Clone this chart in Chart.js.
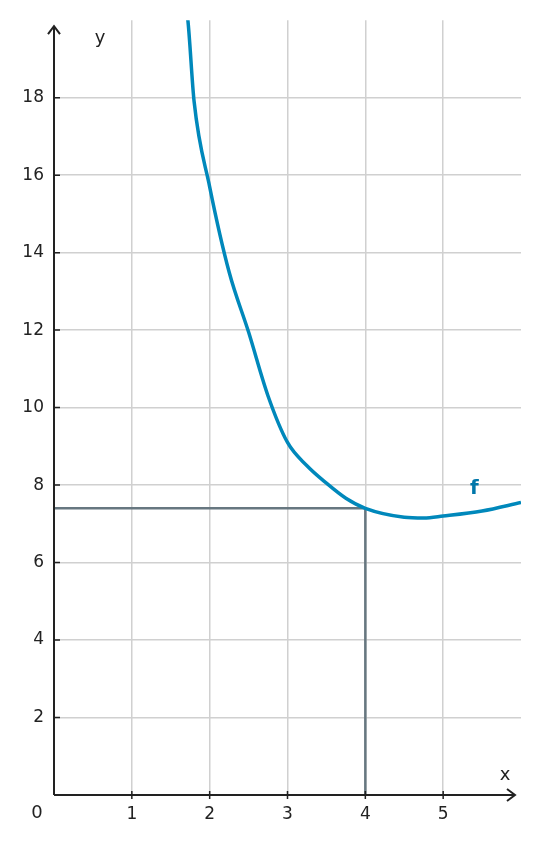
<!DOCTYPE html>
<html>
<head>
<meta charset="utf-8">
<script src="https://cdn.jsdelivr.net/npm/chart.js@4"></script>
<style>
  html, body { margin: 0; padding: 0; background: #fff; }
  #wrap { width: 538px; height: 843px; }
</style>
</head>
<body>
<div id="wrap"><canvas id="plot"></canvas></div>
<script>
// values
const curveX = [1.62, 1.72, 1.8, 2.0, 2.25, 2.5, 2.75, 3.0, 3.25, 3.5, 3.75, 4.0, 4.5, 4.75, 5.0, 5.5, 6.0];
const curveY = [21.2, 20.0, 17.9, 15.7, 13.5, 11.95, 10.3, 9.1, 8.5, 8.05, 7.66, 7.4, 7.17, 7.15, 7.2, 7.33, 7.55];
const boxX = [0, 4, 4];
const boxY = [7.4, 7.4, 0];
const xTicks = [1, 2, 3, 4, 5];
const yTicks = [2, 4, 6, 8, 10, 12, 14, 16, 18];

const FONT = "'DejaVu Sans', sans-serif";
const ink = '#222';

// axes with arrows, tick dashes and the extra labels
const axesPlugin = {
    id: 'axes',
    afterDatasetsDraw(chart) {
        const ctx = chart.ctx;
        const x = chart.scales.x, y = chart.scales.y;
        const x0 = x.getPixelForValue(0), y0 = y.getPixelForValue(0);
        const right = x.right, top = y.top;
        ctx.save();
        ctx.strokeStyle = ink;
        ctx.lineWidth = 2;
        ctx.beginPath();
        ctx.moveTo(x0, y0); ctx.lineTo(right - 6, y0);
        ctx.moveTo(x0, y0); ctx.lineTo(x0, top + 6);
        ctx.stroke();
        // arrow heads
        ctx.beginPath();
        ctx.moveTo(right - 14, y0 - 6); ctx.lineTo(right - 6, y0); ctx.lineTo(right - 14, y0 + 6);
        ctx.moveTo(x0 - 6, top + 14); ctx.lineTo(x0, top + 6); ctx.lineTo(x0 + 6, top + 14);
        ctx.stroke();
        // tick dashes
        ctx.lineWidth = 1.5;
        ctx.beginPath();
        xTicks.forEach(v => { const p = x.getPixelForValue(v); ctx.moveTo(p, y0 - 4); ctx.lineTo(p, y0 + 4); });
        yTicks.forEach(v => { const p = y.getPixelForValue(v); ctx.moveTo(x0 - 1, p); ctx.lineTo(x0 + 6, p); });
        ctx.stroke();
        // labels
        ctx.fillStyle = ink;
        ctx.font = '18px ' + FONT;
        ctx.textAlign = 'center';
        ctx.textBaseline = 'middle';
        ctx.fillText('x', right - 16, y0 - 20);
        ctx.fillText('y', x0 + 46, top + 18);
        ctx.fillText('0', x0 - 17, y0 + 18);
        ctx.fillStyle = '#0077aa';
        ctx.font = 'bold 20px ' + FONT;
        ctx.fillText('f', x.getPixelForValue(5.4), y.getPixelForValue(7.9));
        ctx.restore();
    }
};

new Chart('plot', {
    type: 'scatter',
    data: {
        datasets: [
            {
                data: boxX.map((v, i) => ({ x: v, y: boxY[i] })),
                showLine: true,
                borderColor: '#677780',
                borderWidth: 2.5,
                pointRadius: 0,
                order: 2
            },
            {
                data: curveX.map((v, i) => ({ x: v, y: curveY[i] })),
                showLine: true,
                borderColor: '#0088bb',
                borderWidth: 3.5,
                pointRadius: 0,
                cubicInterpolationMode: 'monotone',
                order: 1
            }
        ]
    },
    options: {
        responsive: true,
        maintainAspectRatio: false,
        animation: false,
        layout: { padding: { top: 17, right: 17, left: 0, bottom: 0 } },
        plugins: { legend: { display: false }, tooltip: { enabled: false } },
        scales: {
            x: {
                type: 'linear', min: 0, max: 6,
                afterBuildTicks: s => { s.ticks = xTicks.map(v => ({ value: v })); },
                afterFit: s => { s.height = 48; },
                grid: { color: '#d0d0d0', lineWidth: 1.5, drawTicks: false },
                border: { display: false },
                ticks: { color: ink, padding: 9, font: { family: FONT, size: 17 } }
            },
            y: {
                type: 'linear', min: 0, max: 20,
                afterBuildTicks: s => { s.ticks = yTicks.map(v => ({ value: v })); },
                afterFit: s => { s.width = 54; },
                grid: { color: '#d0d0d0', lineWidth: 1.5, drawTicks: false },
                border: { display: false },
                ticks: { color: ink, padding: 10, font: { family: FONT, size: 17 } }
            }
        }
    },
    plugins: [axesPlugin]
});
</script>
</body>
</html>
